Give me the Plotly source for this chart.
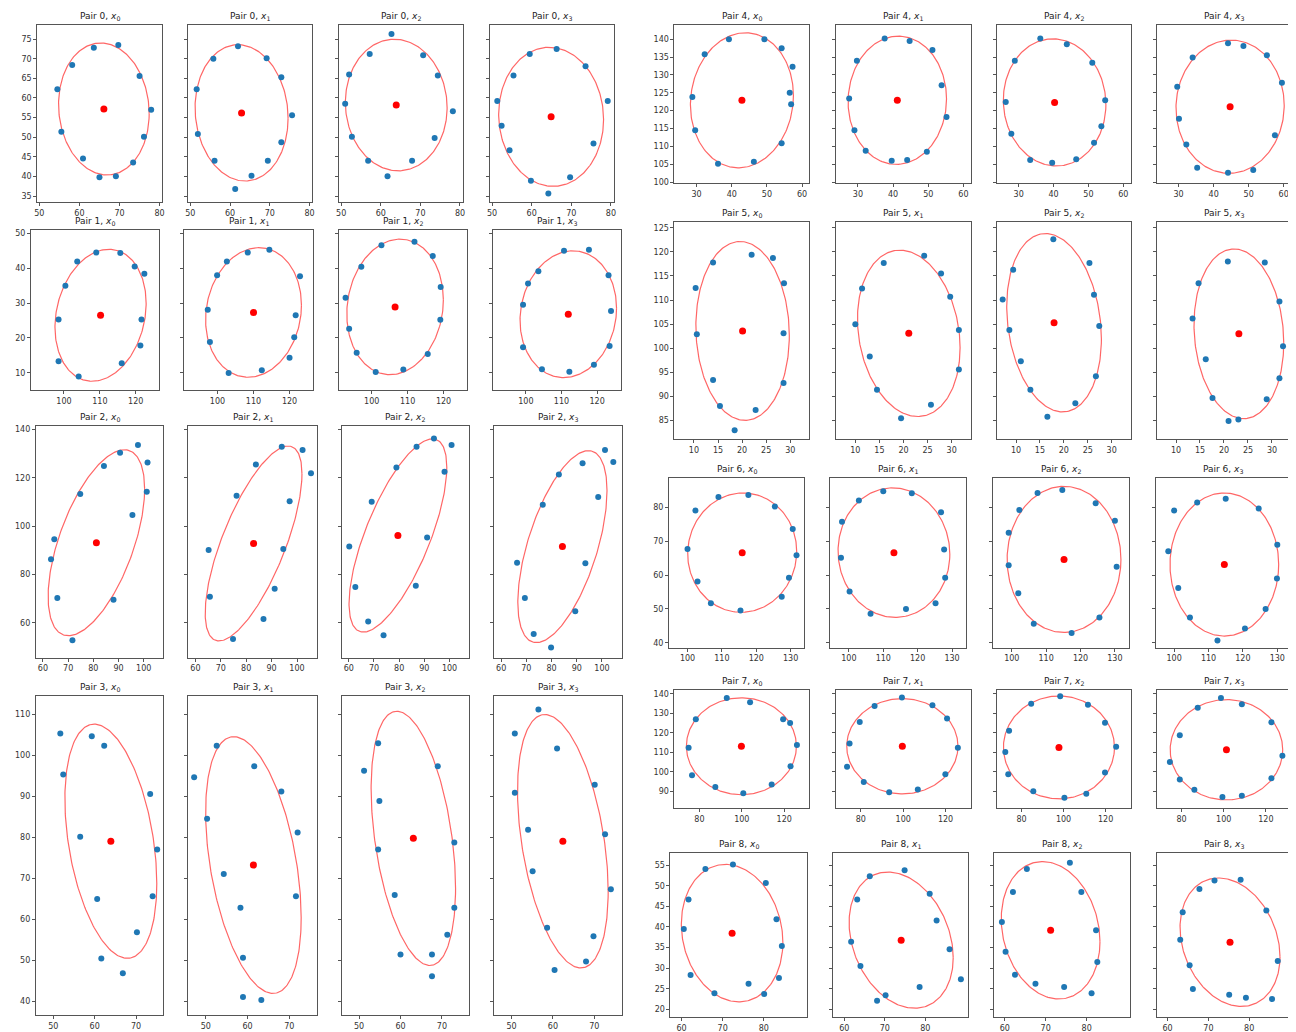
import numpy as np
import plotly.graph_objects as go

# ------------------------------------------------------------------ data
# Each pair: 4 panels (x0..x3). Points, fitted centre and ellipse readings.
pair0_x = [[54.5, 58.2, 63.6, 69.7, 75.0, 77.9, 76.1, 73.4, 69.1, 65.0, 60.9, 55.5],
           [51.6, 55.8, 62.0, 69.2, 72.9, 75.6, 72.9, 69.5, 65.4, 61.3, 56.1, 51.9],
           [62.7, 57.2, 52.0, 51.0, 52.7, 56.8, 61.7, 67.9, 73.6, 78.2, 74.4, 70.7],
           [51.3, 52.4, 54.4, 55.4, 59.5, 66.3, 73.6, 79.2, 75.6, 69.7, 59.8, 64.2]]
pair0_y = [[62.2, 68.4, 72.8, 73.5, 65.6, 57.0, 50.1, 43.6, 40.1, 39.8, 44.6, 51.4],
           [62.2, 70.0, 73.2, 70.1, 65.3, 55.6, 48.7, 44.0, 40.2, 36.8, 44.0, 50.8],
           [76.3, 71.2, 66.0, 58.5, 50.1, 44.0, 40.1, 44.0, 49.8, 56.6, 65.7, 70.9],
           [59.2, 52.9, 46.7, 65.7, 71.2, 72.5, 68.1, 59.2, 48.4, 39.8, 38.9, 35.7]]
pair0_cx = [66.1, 62.9, 63.9, 64.9]
pair0_cy = [57.2, 56.2, 58.2, 55.2]
pair0_hw = [11.3, 11.7, 12.85, 13.25]
pair0_hh = [16.8, 17.35, 16.75, 17.7]
pair0_dx = [-0.8, -0.9, -0.5, -0.5]

pair1_x = [[98.5, 98.5, 104.1, 100.4, 103.7, 109.0, 115.7, 119.7, 122.4, 121.6, 121.3, 116.1],
           [97.3, 97.9, 103.1, 99.9, 102.6, 108.4, 114.4, 122.9, 121.7, 121.3, 120.0, 112.3],
           [92.7, 93.7, 95.8, 101.1, 108.8, 115.6, 119.1, 119.2, 117.0, 111.9, 102.7, 97.1],
           [99.2, 99.2, 100.6, 103.5, 110.7, 117.7, 123.2, 123.9, 123.5, 119.1, 112.2, 104.5]]
pair1_y = [[25.3, 13.3, 8.9, 35.0, 41.9, 44.5, 44.4, 40.5, 38.4, 25.3, 17.8, 12.7],
           [28.1, 18.8, 9.9, 38.0, 41.9, 44.5, 45.3, 37.7, 26.5, 20.2, 14.3, 10.7],
           [31.5, 22.6, 15.7, 10.2, 10.9, 15.4, 25.2, 34.6, 43.5, 47.6, 46.6, 40.4],
           [29.5, 17.3, 35.6, 39.1, 45.0, 45.3, 38.0, 27.7, 17.7, 12.3, 10.3, 11.0]]
pair1_cx = [110.2, 110.0, 106.5, 111.9]
pair1_cy = [26.5, 27.3, 28.9, 26.8]
pair1_hw = [12.7, 13.3, 13.45, 13.55]
pair1_hh = [18.95, 18.6, 19.45, 18.2]
pair1_dx = [2.3, 1.5, 1.4, 1.3]

pair2_x = [[63.2, 64.5, 65.7, 71.7, 74.8, 84.2, 90.6, 97.7, 101.5, 101.2, 95.5, 88.0],
           [65.2, 65.7, 74.8, 76.2, 83.8, 94.0, 102.2, 105.5, 97.1, 94.6, 91.2, 86.8],
           [60.2, 62.6, 67.7, 73.8, 69.1, 78.9, 86.9, 93.8, 100.8, 98.0, 91.1, 86.6],
           [66.3, 69.4, 72.9, 79.8, 76.5, 82.9, 92.3, 101.2, 104.5, 98.5, 93.4, 89.4]]
pair2_y = [[86.3, 94.5, 70.3, 52.8, 113.3, 124.8, 130.3, 133.5, 126.3, 114.2, 104.6, 69.5],
           [90.1, 70.8, 53.3, 112.5, 125.5, 132.8, 131.5, 121.8, 110.3, 90.5, 74.1, 61.6],
           [91.5, 74.8, 60.5, 54.8, 110.1, 124.2, 132.8, 136.2, 133.5, 122.5, 95.3, 75.3],
           [84.8, 70.3, 55.4, 49.8, 108.8, 121.3, 126.0, 131.5, 126.5, 112.0, 84.6, 64.8]]
pair2_cx = [81.2, 82.9, 79.5, 84.3]
pair2_cy = [93.1, 92.8, 96.1, 91.5]
pair2_hw = [19.15, 19.05, 19.4, 17.7]
pair2_hh = [38.45, 40.3, 39.95, 39.7]
pair2_dx = [11.1, 13.6, 13.7, 10.3]

pair3_x = [[51.7, 52.4, 59.3, 62.3, 56.5, 60.6, 61.6, 66.8, 70.2, 74.0, 75.1, 73.4],
           [47.2, 52.6, 50.3, 61.6, 68.1, 72.0, 54.3, 58.3, 71.6, 58.9, 58.9, 63.3],
           [51.2, 54.6, 54.9, 54.6, 58.6, 60.0, 67.6, 67.6, 71.3, 73.0, 73.0, 69.0],
           [50.8, 56.5, 61.0, 50.8, 54.0, 55.1, 58.6, 60.4, 68.0, 69.8, 74.0, 72.6, 70.1]]
pair3_y = [[105.4, 95.4, 104.7, 102.4, 80.2, 65.0, 50.5, 46.9, 56.9, 65.7, 77.1, 90.6],
           [94.7, 102.4, 84.6, 97.4, 91.2, 81.2, 71.1, 62.9, 65.7, 50.7, 41.1, 40.4],
           [96.3, 103.0, 88.9, 77.1, 66.0, 51.5, 51.5, 46.2, 56.3, 62.9, 78.8, 97.4],
           [105.4, 111.2, 101.7, 90.9, 81.9, 71.8, 58.0, 47.7, 49.8, 55.9, 67.4, 80.8, 92.9]]
pair3_cx = [63.9, 61.4, 63.1, 62.4]
pair3_cy = [79.1, 73.3, 79.8, 79.1]
pair3_hw = [11.1, 11.45, 10.2, 10.95]
pair3_hh = [28.55, 31.3, 31.0, 30.9]
pair3_dx = [-4.0, -4.7, -4.0, -4.35]

pair4_x = [[28.8, 29.6, 32.3, 36.1, 39.2, 46.3, 49.3, 54.2, 57.3, 56.5, 56.9, 54.2],
           [27.5, 29.0, 29.7, 32.2, 37.6, 39.6, 44.0, 44.7, 49.6, 51.2, 53.8, 55.2],
           [26.3, 27.9, 28.9, 33.3, 36.2, 39.6, 43.8, 46.5, 51.1, 51.6, 53.7, 54.8],
           [29.6, 30.1, 32.2, 34.0, 35.3, 44.1, 44.1, 48.5, 51.3, 55.2, 57.5, 59.5]]
pair4_y = [[123.8, 114.5, 135.8, 105.1, 140.0, 105.7, 140.0, 137.5, 132.3, 125.0, 121.8, 110.9],
           [123.4, 114.5, 134.0, 108.8, 140.2, 106.0, 106.2, 139.5, 108.5, 137.0, 127.1, 118.2],
           [122.4, 113.5, 134.0, 106.2, 140.2, 105.4, 138.6, 106.4, 133.4, 111.0, 115.6, 122.9],
           [126.7, 117.7, 110.5, 134.9, 104.0, 138.9, 102.6, 138.1, 103.4, 135.5, 113.1, 127.8]]
pair4_cx = [42.9, 41.2, 40.3, 44.7]
pair4_cy = [122.9, 122.9, 122.3, 121.1]
pair4_hw = [14.65, 14.0, 14.7, 15.45]
pair4_hh = [18.9, 17.95, 17.8, 18.65]
pair4_dx = [1.0, 0.3, -0.5, 0.3]

pair5_x = [[10.35, 10.6, 13.97, 13.97, 15.4, 18.45, 21.98, 22.8, 26.4, 28.7, 28.6, 28.6],
           [10.0, 11.4, 13.0, 14.5, 15.9, 19.5, 24.3, 25.7, 27.8, 29.7, 31.5, 31.5],
           [7.2, 8.6, 9.4, 11.0, 13.0, 16.55, 17.8, 22.4, 25.35, 26.3, 27.4, 26.7],
           [13.45, 14.7, 16.2, 17.6, 20.95, 20.8, 23.0, 28.5, 28.9, 31.55, 31.55, 32.3]]
pair5_y = [[112.5, 102.9, 117.8, 93.4, 88.0, 83.0, 119.4, 87.2, 118.7, 113.5, 103.1, 92.8],
           [105.0, 112.4, 98.3, 91.4, 117.7, 85.5, 119.2, 88.3, 115.5, 110.7, 103.8, 95.6],
           [110.1, 103.8, 116.3, 97.3, 91.4, 85.8, 122.6, 88.6, 117.7, 111.1, 104.6, 94.2],
           [106.2, 113.5, 97.7, 89.7, 84.9, 118.0, 85.2, 117.8, 89.4, 109.7, 93.8, 100.4]]
pair5_cx = [20.1, 21.1, 17.95, 23.1]
pair5_cy = [103.6, 103.1, 105.3, 103.0]
pair5_hw = [9.7, 10.65, 9.9, 9.35]
pair5_hh = [18.55, 17.25, 18.5, 17.6]
pair5_dx = [-0.5, -1.85, -1.8, -1.0]

pair6_x = [[100.0, 102.3, 102.9, 106.8, 109.0, 115.4, 117.7, 125.4, 130.6, 131.7, 129.5, 127.4],
           [97.7, 98.0, 100.2, 102.9, 106.3, 110.0, 116.6, 118.3, 126.8, 127.7, 128.0, 125.2],
           [99.1, 99.1, 101.9, 102.2, 106.4, 107.5, 114.7, 117.4, 124.4, 125.5, 130.0, 130.5],
           [98.3, 100.0, 101.2, 104.6, 106.7, 115.0, 120.6, 124.6, 126.6, 129.9, 130.0, 112.6]]
pair6_y = [[67.7, 79.0, 58.1, 51.7, 83.0, 49.5, 83.6, 80.2, 73.6, 65.8, 59.2, 53.6],
           [65.1, 75.7, 55.1, 82.0, 48.6, 84.7, 50.0, 84.1, 78.5, 67.5, 59.2, 51.7],
           [72.5, 62.9, 54.6, 79.2, 45.6, 84.2, 85.1, 42.9, 81.2, 47.5, 76.0, 62.4],
           [67.0, 79.0, 56.2, 47.5, 81.4, 82.5, 44.2, 79.6, 50.0, 59.0, 68.9, 40.7]]
pair6_cx = [115.9, 113.1, 115.2, 114.6]
pair6_cy = [66.6, 66.6, 64.6, 63.1]
pair6_hw = [15.85, 16.25, 16.55, 15.8]
pair6_hh = [17.6, 19.1, 21.55, 21.1]
pair6_dx = [0.3, -0.4, 0.0, 0.0]

pair7_x = [[74.9, 76.5, 78.3, 87.5, 92.9, 100.7, 103.9, 114.1, 119.5, 122.8, 123.0, 126.0],
           [73.5, 74.7, 79.5, 81.4, 86.5, 93.4, 99.4, 106.9, 113.8, 120.7, 125.8, 119.9],
           [72.3, 73.7, 74.1, 84.6, 85.6, 98.4, 100.4, 111.6, 110.8, 119.7, 119.7, 125.0],
           [74.5, 79.2, 79.2, 86.1, 87.7, 98.7, 99.4, 108.6, 108.6, 122.6, 122.6, 127.8]]
pair7_y = [[112.3, 98.3, 126.9, 92.2, 137.8, 89.0, 135.7, 93.5, 126.9, 125.0, 102.9, 113.7],
           [102.6, 114.5, 125.5, 94.8, 133.8, 89.5, 138.1, 91.0, 134.1, 127.3, 112.3, 98.8],
           [110.2, 98.8, 121.1, 134.9, 90.0, 138.7, 86.7, 134.4, 88.7, 125.2, 99.7, 112.9],
           [105.0, 118.7, 96.1, 90.8, 132.8, 137.9, 87.1, 134.6, 87.8, 125.4, 96.7, 108.2]]
pair7_cx = [99.8, 99.6, 97.8, 101.3]
pair7_cy = [113.1, 113.1, 112.5, 111.3]
pair7_hw = [25.95, 26.25, 26.4, 26.65]
pair7_hh = [24.85, 24.4, 26.35, 25.7]
pair7_dx = [0.0, 0.0, 0.0, 0.0]

pair8_x = [[60.55, 61.7, 62.2, 65.8, 68.0, 72.5, 80.5, 83.1, 80.1, 76.3, 83.7, 84.4],
           [61.7, 63.2, 64.0, 66.3, 68.1, 70.2, 74.9, 78.6, 81.1, 82.8, 86.0, 88.8],
           [59.3, 60.2, 62.0, 62.5, 65.4, 67.5, 74.5, 75.9, 78.7, 82.3, 82.6, 81.2],
           [63.1, 63.7, 65.4, 66.2, 67.8, 71.5, 75.1, 79.2, 77.9, 84.2, 87.0, 85.6]]
pair8_y = [[39.5, 46.7, 28.3, 54.1, 23.9, 55.2, 50.7, 41.9, 23.7, 26.2, 27.6, 35.4],
           [36.4, 46.7, 30.5, 52.3, 22.1, 23.4, 53.8, 25.4, 48.1, 41.6, 34.6, 27.3],
           [41.2, 34.0, 48.5, 28.4, 54.1, 26.2, 25.4, 55.6, 48.5, 39.2, 31.5, 23.9],
           [36.9, 43.6, 30.7, 24.9, 49.2, 51.3, 23.5, 22.8, 51.5, 44.0, 31.7, 22.5]]
pair8_cx = [72.3, 74.05, 71.2, 75.3]
pair8_cy = [38.5, 36.8, 39.2, 36.3]
pair8_hw = [12.35, 12.85, 12.05, 12.25]
pair8_hh = [16.7, 16.55, 16.7, 15.6]
pair8_dx = [-1.65, -3.3, -2.0, -2.8]

# axis ranges and tick labels per pair
x_ranges = [[49.5, 80.7], [90.8, 126.6], [57.2, 107.8], [45.8, 76.6], [23.7, 62.1],
            [5.95, 33.97], [94.6, 134.0], [68.2, 131.9], [57.3, 90.5]]
y_ranges = [[33.5, 78.6], [5.0, 51.0], [45.5, 141.4], [36.7, 114.6], [99.7, 144.0],
            [81.2, 126.2], [38.5, 88.7], [81.4, 142.1], [18.1, 58.0]]
x_ticks = [[50, 60, 70, 80], [100, 110, 120], [60, 70, 80, 90, 100], [50, 60, 70],
           [30, 40, 50, 60], [10, 15, 20, 25, 30], [100, 110, 120, 130], [80, 100, 120],
           [60, 70, 80]]
y_ticks = [[35, 40, 45, 50, 55, 60, 65, 70, 75], [10, 20, 30, 40, 50],
           [60, 80, 100, 120, 140], [40, 50, 60, 70, 80, 90, 100, 110],
           [100, 105, 110, 115, 120, 125, 130, 135, 140],
           [85, 90, 95, 100, 105, 110, 115, 120, 125], [40, 50, 60, 70, 80],
           [90, 100, 110, 120, 130, 140], [20, 25, 30, 35, 40, 45, 50, 55]]

pairs_x = [pair0_x, pair1_x, pair2_x, pair3_x, pair4_x, pair5_x, pair6_x, pair7_x, pair8_x]
pairs_y = [pair0_y, pair1_y, pair2_y, pair3_y, pair4_y, pair5_y, pair6_y, pair7_y, pair8_y]
pairs_cx = [pair0_cx, pair1_cx, pair2_cx, pair3_cx, pair4_cx, pair5_cx, pair6_cx, pair7_cx, pair8_cx]
pairs_cy = [pair0_cy, pair1_cy, pair2_cy, pair3_cy, pair4_cy, pair5_cy, pair6_cy, pair7_cy, pair8_cy]
pairs_hw = [pair0_hw, pair1_hw, pair2_hw, pair3_hw, pair4_hw, pair5_hw, pair6_hw, pair7_hw, pair8_hw]
pairs_hh = [pair0_hh, pair1_hh, pair2_hh, pair3_hh, pair4_hh, pair5_hh, pair6_hh, pair7_hh, pair8_hh]
pairs_dx = [pair0_dx, pair1_dx, pair2_dx, pair3_dx, pair4_dx, pair5_dx, pair6_dx, pair7_dx, pair8_dx]

# ------------------------------------------------------------------ geometry (pixels)
W, H = 1296, 1032
L_A = [(26.4, 152.0), (178.0, 302.5), (329.5, 453.5), (481.0, 605.0)]
L_B = [(20.0, 149.0), (174.0, 303.5), (329.0, 458.0), (484.0, 612.0)]
L_C = [(25.0, 153.0), (178.0, 307.0), (332.0, 460.0), (485.0, 613.0)]
R_A = [(666.0, 801.5), (828.0, 963.5), (989.5, 1124.0), (1150.0, 1285.0)]
R_B = [(660.5, 796.5), (822.5, 958.5), (986.0, 1122.0), (1149.0, 1285.0)]
R_C = [(662.0, 799.0), (825.5, 960.5), (986.5, 1123.0), (1150.0, 1286.0)]
box_x = [L_A, L_B, L_C, L_C, R_A, R_A, R_B, R_A, R_C]
box_y = [(16.0, 194.0), (222.0, 383.0), (419.0, 652.0), (690.0, 1011.0),
         (16.0, 175.0), (214.0, 432.0), (471.0, 642.0), (684.0, 803.0), (848.0, 1013.0)]

BLUE = "#1f77b4"
FRAME = "#555555"
FONT = "DejaVu Sans"

fig = go.Figure()
annotations = []
t = np.linspace(0, 2 * np.pi, 241)
n = 0
for p in range(9):
    top, bot = box_y[p]
    for k in range(4):
        n += 1
        x0, x1 = box_x[p][k]
        sx = "" if n == 1 else str(n)
        # ellipse outline from read centre / half-extents / top offset
        cx, cy = pairs_cx[p][k], pairs_cy[p][k]
        hw, hh, dx = pairs_hw[p][k], pairs_hh[p][k], pairs_dx[p][k]
        phi = np.arcsin(np.clip(dx / hw, -1, 1))
        ex = cx + hw * np.cos(t)
        ey = cy + hh * np.sin(t + phi)
        fig.add_trace(go.Scatter(x=ex, y=ey, mode="lines", xaxis="x" + sx, yaxis="y" + sx,
                                 line=dict(color="rgba(255,0,0,0.6)", width=1.2),
                                 hoverinfo="skip", showlegend=False))
        fig.add_trace(go.Scatter(x=pairs_x[p][k], y=pairs_y[p][k], mode="markers",
                                 xaxis="x" + sx, yaxis="y" + sx,
                                 marker=dict(color=BLUE, size=6), showlegend=False))
        fig.add_trace(go.Scatter(x=[cx], y=[cy], mode="markers",
                                 xaxis="x" + sx, yaxis="y" + sx,
                                 marker=dict(color="red", size=7), showlegend=False))
        common = dict(showline=True, mirror=True, linecolor=FRAME, linewidth=1,
                      ticks="outside", ticklen=3, tickwidth=1, tickcolor=FRAME,
                      showgrid=False, zeroline=False,
                      tickfont=dict(family=FONT, size=8, color="#333333"))
        fig.update_layout(**{
            "xaxis" + sx: dict(domain=[x0 / W, x1 / W], anchor="y" + sx,
                               range=x_ranges[p], tickvals=x_ticks[p], **common),
            "yaxis" + sx: dict(domain=[1 - bot / H, 1 - top / H], anchor="x" + sx,
                               range=y_ranges[p], tickvals=y_ticks[p],
                               showticklabels=(k == 0), **common),
        })
        annotations.append(dict(
            text=f"Pair {p}, <i>x</i><sub>{k}</sub>", xref="paper", yref="paper",
            x=(x0 + x1) / 2 / W, y=1 - (top - 1.0) / H, xanchor="center", yanchor="bottom",
            showarrow=False, font=dict(family=FONT, size=9, color="#222222")))

fig.update_layout(width=W, height=H, margin=dict(l=0, r=0, t=0, b=0),
                  paper_bgcolor="white", plot_bgcolor="white",
                  annotations=annotations, showlegend=False)
fig.write_html("out.html")
